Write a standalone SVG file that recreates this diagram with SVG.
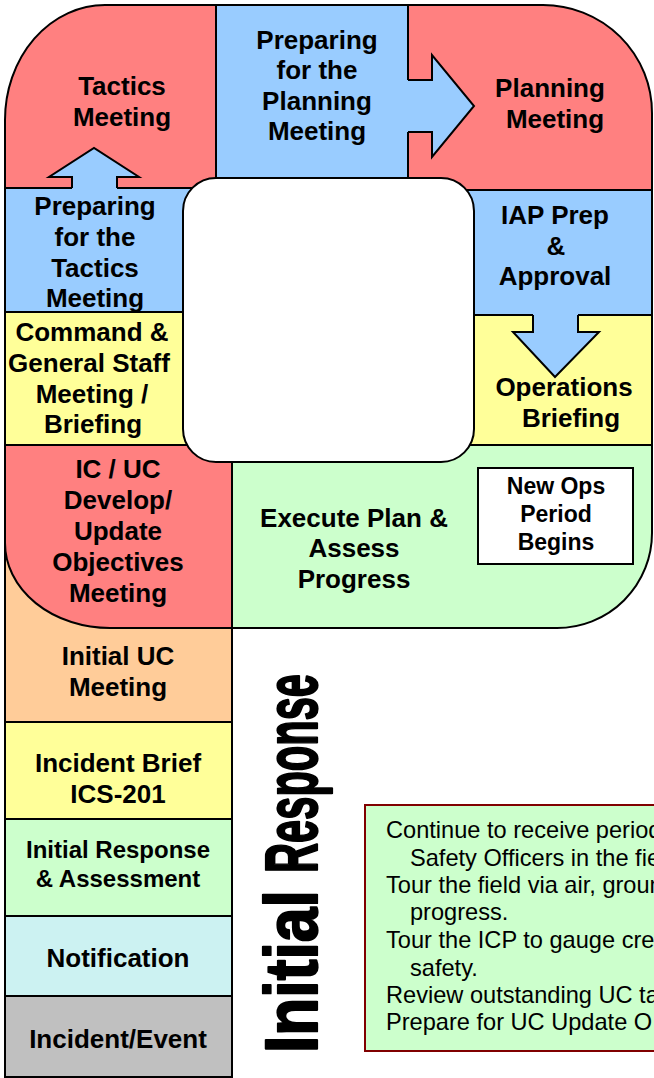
<svg xmlns="http://www.w3.org/2000/svg" width="654" height="1078" viewBox="0 0 654 1078">
<style>
.c{stroke:#000;stroke-width:2;stroke-linejoin:miter}
.r{fill:#FF8080}.b{fill:#99CCFF}.y{fill:#FFFF99}.g{fill:#CCFFCC}.o{fill:#FFCC99}.cy{fill:#CCF2F2}.gr{fill:#C0C0C0}.w{fill:#FFFFFF}
.t{font-family:"Liberation Sans",Arial,sans-serif;font-weight:bold;font-size:26px;text-anchor:middle;fill:#000}
.s{font-size:24px}
.n{font-size:23px}
.body{font-family:"Liberation Sans",Arial,sans-serif;font-size:23.6px;fill:#000}
.big{font-family:"Liberation Sans",Arial,sans-serif;font-weight:bold;font-size:75px;fill:#000;stroke:#000;stroke-width:2.2;stroke-linejoin:round}
.arrowfill{fill:#99CCFF;stroke:none}
.arrowline{fill:none;stroke:#000;stroke-width:2}
</style>
<rect width="654" height="1078" fill="#FFFFFF"/>

<g id="tactics-meeting">
<path class="c r" d="M5,120 A100,115 0 0 1 105,5 L216,5 L216,188 L5,188 Z"/>
<text class="t" x="122" y="95">Tactics</text>
<text class="t" x="122" y="126">Meeting</text>
</g>

<g id="preparing-planning">
<rect class="c b" x="216" y="5" width="192" height="173"/>
<text class="t" x="317" y="49">Preparing</text>
<text class="t" x="317" y="79">for the</text>
<text class="t" x="317" y="110">Planning</text>
<text class="t" x="317" y="140">Meeting</text>
</g>

<g id="planning-meeting">
<path class="c r" d="M408,5 L543,5 A109,108 0 0 1 652,113 L652,190 L408,190 Z"/>
<text class="t" x="550" y="97">Planning</text>
<text class="t" x="555" y="128">Meeting</text>
</g>

<g id="iap-prep">
<rect class="c b" x="408" y="190" width="244" height="125"/>
<text class="t" x="555" y="224">IAP Prep</text>
<text class="t" x="556" y="255">&amp;</text>
<text class="t" x="555" y="285">Approval</text>
</g>

<g id="operations-briefing">
<rect class="c y" x="408" y="315" width="244" height="130"/>
<text class="t" x="564" y="396">Operations</text>
<text class="t" x="571" y="427">Briefing</text>
</g>

<g id="preparing-tactics">
<rect class="c b" x="5" y="188" width="211" height="124"/>
<text class="t" x="95" y="215">Preparing</text>
<text class="t" x="95" y="246">for the</text>
<text class="t" x="95" y="277">Tactics</text>
<text class="t" x="95" y="307">Meeting</text>
</g>

<g id="command-general-staff">
<rect class="c y" x="5" y="312" width="211" height="133"/>
<text class="t" x="92" y="341">Command &amp;</text>
<text class="t" x="89" y="372">General Staff</text>
<text class="t" x="92" y="403">Meeting /</text>
<text class="t" x="93" y="433">Briefing</text>
</g>

<g id="initial-uc-meeting">
<rect class="c o" x="5" y="520" width="227" height="202"/>
<text class="t" x="118" y="665">Initial UC</text>
<text class="t" x="118" y="696">Meeting</text>
</g>

<g id="objectives-meeting">
<path class="c r" d="M5,445 L232,445 L232,628 L110,628 A105,85 0 0 1 5,543 Z"/>
<text class="t" x="118" y="478">IC / UC</text>
<text class="t" x="118" y="509">Develop/</text>
<text class="t" x="118" y="540">Update</text>
<text class="t" x="118" y="571">Objectives</text>
<text class="t" x="118" y="602">Meeting</text>
</g>

<g id="execute-plan">
<path class="c g" d="M232,445 L652,445 L652,533 A95,95 0 0 1 557,628 L232,628 Z"/>
<text class="t" x="354" y="527">Execute Plan &amp;</text>
<text class="t" x="354" y="557">Assess</text>
<text class="t" x="354" y="588">Progress</text>
</g>

<g id="new-ops-period">
<rect class="c w" x="478" y="468" width="155" height="96"/>
<text class="t n" x="556" y="494">New Ops</text>
<text class="t n" x="556" y="522">Period</text>
<text class="t n" x="556" y="550">Begins</text>
</g>

<g id="center-box">
<rect class="c w" x="183" y="178" width="291" height="284" rx="33" ry="33"/>
</g>

<g id="incident-brief">
<rect class="c y" x="5" y="722" width="227" height="97"/>
<text class="t" x="118" y="772">Incident Brief</text>
<text class="t" x="118" y="803">ICS-201</text>
</g>

<g id="initial-response-assessment">
<rect class="c g" x="5" y="819" width="227" height="97"/>
<text class="t s" x="118" y="858">Initial Response</text>
<text class="t s" x="118" y="887">&amp; Assessment</text>
</g>

<g id="notification">
<rect class="c cy" x="5" y="916" width="227" height="80"/>
<text class="t" x="118" y="967">Notification</text>
</g>

<g id="incident-event">
<rect class="c gr" x="5" y="996" width="227" height="81"/>
<text class="t" x="118" y="1048">Incident/Event</text>
</g>

<g id="initial-response-label">
<text class="big" transform="translate(317,1053) rotate(-90)"><tspan textLength="180" lengthAdjust="spacingAndGlyphs">Initial </tspan><tspan textLength="199" lengthAdjust="spacingAndGlyphs">Response</tspan></text>
</g>

<g id="notes-box">
<rect x="365" y="805" width="300" height="246" fill="#CCFFCC" stroke="#800000" stroke-width="2"/>
<text class="body" x="386" y="838">Continue to receive period</text>
<text class="body" x="410" y="866">Safety Officers in the fie</text>
<text class="body" x="386" y="893">Tour the field via air, groun</text>
<text class="body" x="410" y="920">progress.</text>
<text class="body" x="386" y="948">Tour the ICP to gauge cre</text>
<text class="body" x="410" y="976">safety.</text>
<text class="body" x="386" y="1003">Review outstanding UC ta</text>
<text class="body" x="386" y="1030">Prepare for UC Update O</text>
</g>

<g id="connectors">
<path class="arrowfill" d="M406,80 L432,80 L432,55 L474,106 L432,157 L432,132 L406,132 Z"/>
<path class="arrowline" d="M408,80 L432,80 L432,55 L474,106 L432,157 L432,132 L408,132"/>
<path class="arrowfill" d="M72,190 L72,177 L49,177 L94,148 L139,177 L117,177 L117,190 Z"/>
<path class="arrowline" d="M72,188 L72,177 L49,177 L94,148 L139,177 L117,177 L117,188"/>
<path class="arrowfill" d="M533,313 L533,332 L513,332 L555,377 L599,332 L578,332 L578,313 Z"/>
<path class="arrowline" d="M533,315 L533,332 L513,332 L555,377 L599,332 L578,332 L578,315"/>
</g>
</svg>
